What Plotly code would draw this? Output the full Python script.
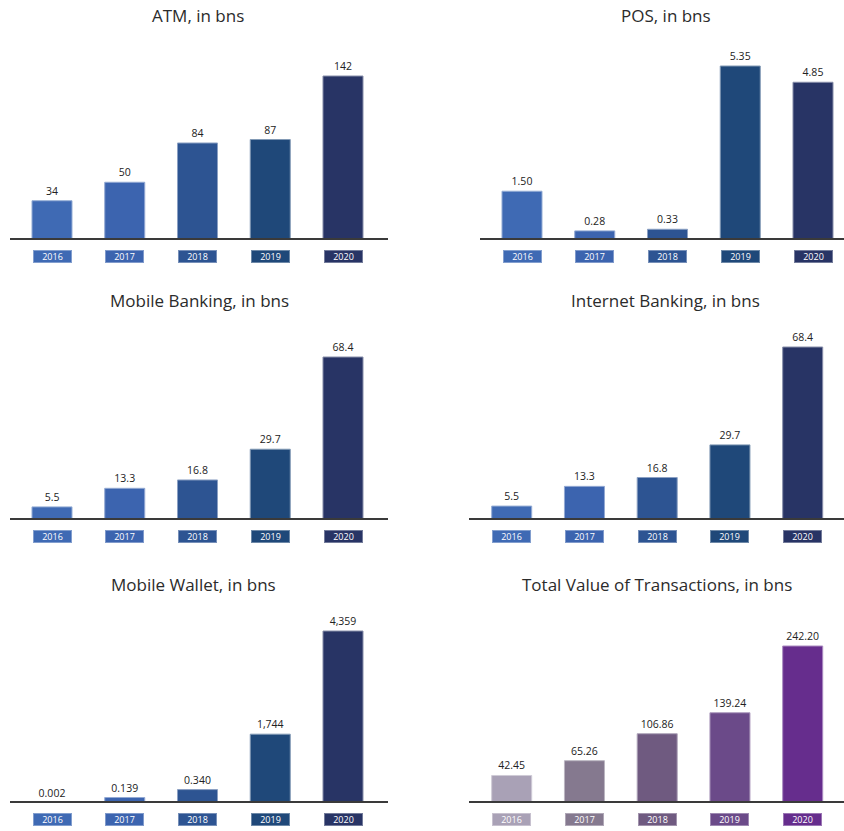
import plotly.graph_objects as go

# ---------------- data ----------------
years = ["2016", "2017", "2018", "2019", "2020"]

atm_values = [34, 50, 84, 87, 142]
atm_labels = ["34", "50", "84", "87", "142"]

pos_values = [1.50, 0.28, 0.33, 5.35, 4.85]
pos_labels = ["1.50", "0.28", "0.33", "5.35", "4.85"]

mobile_banking_values = [5.5, 13.3, 16.8, 29.7, 68.4]
mobile_banking_labels = ["5.5", "13.3", "16.8", "29.7", "68.4"]

internet_banking_values = [5.5, 13.3, 16.8, 29.7, 68.4]
internet_banking_labels = ["5.5", "13.3", "16.8", "29.7", "68.4"]

mobile_wallet_values = [0.002, 0.139, 0.340, 1.744, 4.359]
mobile_wallet_labels = ["0.002", "0.139", "0.340", "1,744", "4,359"]

total_values = [42.45, 65.26, 106.86, 139.24, 242.20]
total_labels = ["42.45", "65.26", "106.86", "139.24", "242.20"]

titles = ["ATM, in bns", "POS, in bns", "Mobile Banking, in bns",
          "Internet Banking, in bns", "Mobile Wallet, in bns",
          "Total Value of Transactions, in bns"]

# ---------------- styles ----------------
blue_colors = ["#3F6AB4", "#3C64AF", "#2D5492", "#1F4879", "#283465"]
purple_colors = ["#A9A1B6", "#85798F", "#6F5A80", "#6B4A89", "#662D8D"]

W, H = 844, 831
STEP = 72.75      # px between bar centres
D = 200           # plot height in px
BAR_W = 0.55


def tint(hex_color, f=0.45):
    h = hex_color.lstrip("#")
    r, g, b = (int(h[i:i + 2], 16) for i in (0, 2, 4))
    r, g, b = (int(c + (255 - c) * f) for c in (r, g, b))
    return f"rgb({r},{g},{b})"


panels = [
    dict(values=atm_values, labels=atm_labels, colors=blue_colors,
         x_px=(10, 388), c0=52, base=240, h=164, t=(198, 15)),
    dict(values=pos_values, labels=pos_labels, colors=blue_colors,
         x_px=(480, 844), c0=522, base=240, h=174, t=(666, 15)),
    dict(values=mobile_banking_values, labels=mobile_banking_labels, colors=blue_colors,
         x_px=(10, 388), c0=52, base=520, h=163, t=(199, 300)),
    dict(values=internet_banking_values, labels=internet_banking_labels, colors=blue_colors,
         x_px=(469, 844), c0=511.7, base=520, h=173, t=(665, 300)),
    dict(values=mobile_wallet_values, labels=mobile_wallet_labels, colors=blue_colors,
         x_px=(10, 388), c0=52, base=803, h=172, t=(193, 584)),
    dict(values=total_values, labels=total_labels, colors=purple_colors,
         x_px=(469, 844), c0=511.7, base=803, h=157, t=(657, 584)),
]

fig = go.Figure()
layout = dict(
    width=W, height=H, margin=dict(l=0, r=0, t=0, b=0),
    paper_bgcolor="white", plot_bgcolor="white", showlegend=False,
    font=dict(family="Open Sans, sans-serif"),
)
annotations = []
shapes = []

for i, (p, title) in enumerate(zip(panels, titles)):
    n = i + 1
    xa = "xaxis" if n == 1 else f"xaxis{n}"
    ya = "yaxis" if n == 1 else f"yaxis{n}"
    xr = "x" if n == 1 else f"x{n}"
    yr = "y" if n == 1 else f"y{n}"

    x0px, x1px = p["x_px"]
    r0 = -(p["c0"] - x0px) / STEP
    r1 = r0 + (x1px - x0px) / STEP
    vmax = max(p["values"])
    ytop = vmax * D / p["h"]

    layout[xa] = dict(domain=[x0px / W, min(x1px / W, 1)], range=[r0, r1],
                      type="category", visible=False, anchor=yr, fixedrange=True)
    layout[ya] = dict(domain=[1 - p["base"] / H, 1 - (p["base"] - D) / H],
                      range=[0, ytop], visible=False, anchor=xr, fixedrange=True)

    fig.add_trace(go.Bar(
        x=years, y=p["values"], text=p["labels"], xaxis=xr, yaxis=yr,
        width=BAR_W, textposition="outside", cliponaxis=False,
        textfont=dict(size=10.5, color="#222222", family="Open Sans, sans-serif"),
        marker=dict(color=p["colors"],
                    line=dict(color=[tint(c) for c in p["colors"]], width=1)),
        hoverinfo="x+y",
    ))

    # baseline
    shapes.append(dict(type="line", xref=f"{xr} domain", yref=yr,
                       x0=0, x1=1, y0=0, y1=0,
                       line=dict(color="#3a3a3a", width=4)))

    # year boxes (category axes take the category index as position)
    for k, (yv, col) in enumerate(zip(years, p["colors"])):
        annotations.append(dict(
            x=k, xref=xr, y=1 - (p["base"] + 16.7) / H, yref="paper",
            text=yv, showarrow=False, width=37, height=11,
            bgcolor=col, bordercolor=tint(col, 0.35), borderwidth=1, borderpad=0,
            font=dict(size=9, color="white", family="Open Sans, sans-serif"),
            xanchor="center", yanchor="middle",
        ))

    # title
    tx, ty = p["t"]
    annotations.append(dict(
        x=tx / W, y=1 - ty / H, xref="paper", yref="paper", text=title,
        showarrow=False, xanchor="center", yanchor="middle",
        font=dict(size=17, color="#2b2b2b", family="Open Sans, sans-serif"),
    ))

layout["annotations"] = annotations
layout["shapes"] = shapes
fig.update_layout(**layout)
fig.write_html("out.html")
